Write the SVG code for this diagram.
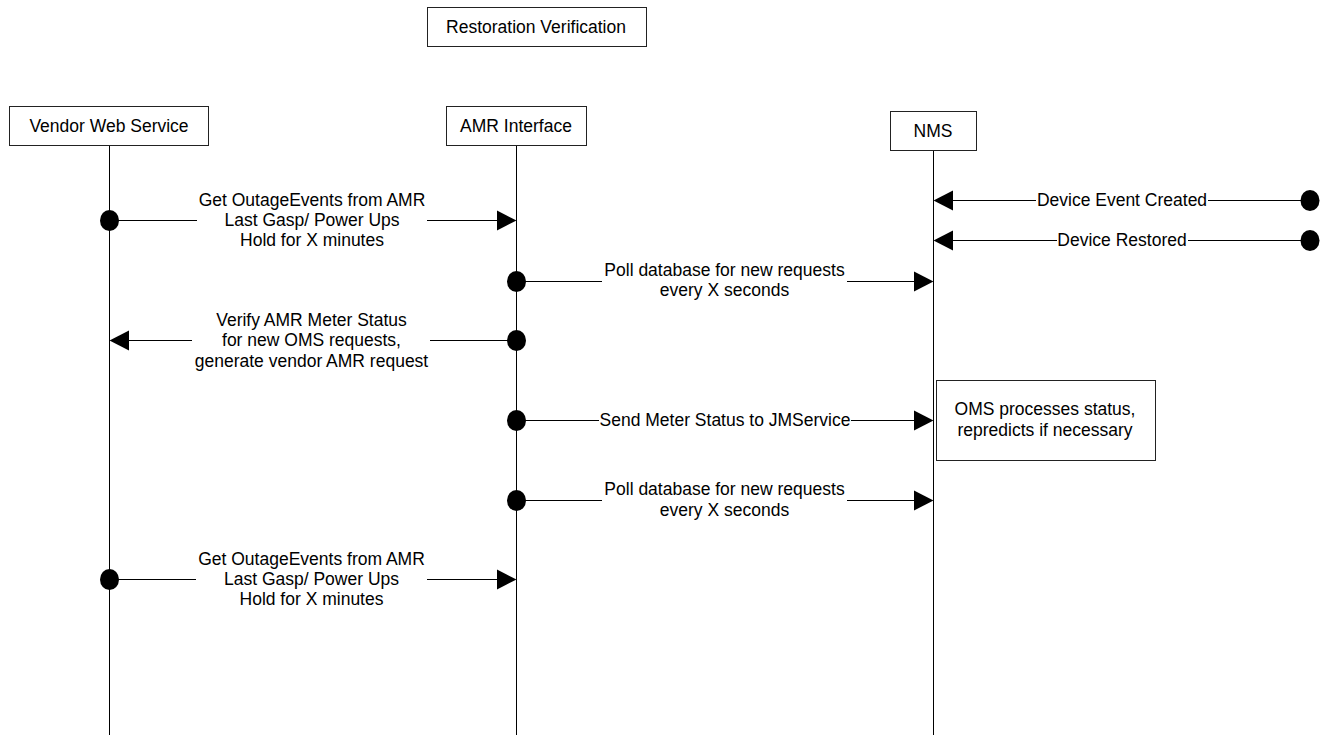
<svg xmlns="http://www.w3.org/2000/svg" width="1330" height="735" viewBox="0 0 1330 735">
<style>
text{font-family:"Liberation Sans",Arial,sans-serif;font-size:17.5px;fill:#000;text-anchor:middle}
.box{fill:#fff;stroke:#222;stroke-width:1;shape-rendering:crispEdges}
.ll{stroke:#000;stroke-width:1;fill:none;shape-rendering:crispEdges}
.ln{stroke:#000;stroke-width:1;fill:none;shape-rendering:crispEdges}
.dot{fill:#000}
.ah{fill:#000}
</style>
<rect width="1330" height="735" fill="#fff"/>
<g id="title">
<rect class="box" x="427.5" y="7.5" width="219" height="39"/>
<text x="536" y="33">Restoration Verification</text>
</g>
<g id="connectors">
<line class="ll" x1="109.5" y1="146" x2="109.5" y2="735"/>
<line class="ll" x1="516.5" y1="146" x2="516.5" y2="735"/>
<line class="ll" x1="933.5" y1="151" x2="933.5" y2="735"/>
<!-- msg1 -->
<line class="ln" x1="109" y1="220.5" x2="197" y2="220.5"/>
<line class="ln" x1="427" y1="220.5" x2="500" y2="220.5"/>
<ellipse class="dot" cx="109.5" cy="220.5" rx="9.5" ry="10.5"/>
<polygon class="ah" points="497,210.5 516.5,220.5 497,230.5"/>
<text x="312" y="206">Get OutageEvents from AMR</text>
<text x="312" y="226">Last Gasp/ Power Ups</text>
<text x="312" y="246">Hold for X minutes</text>
<!-- device event created -->
<line class="ln" x1="950" y1="200.5" x2="1036" y2="200.5"/>
<line class="ln" x1="1208" y1="200.5" x2="1310" y2="200.5"/>
<polygon class="ah" points="933.5,200.5 953,190.5 953,210.5"/>
<ellipse class="dot" cx="1310" cy="200.5" rx="9.5" ry="10.5"/>
<text x="1122" y="206">Device Event Created</text>
<!-- device restored -->
<line class="ln" x1="950" y1="240.5" x2="1057" y2="240.5"/>
<line class="ln" x1="1188" y1="240.5" x2="1310" y2="240.5"/>
<polygon class="ah" points="933.5,240.5 953,230.5 953,250.5"/>
<ellipse class="dot" cx="1310" cy="240.5" rx="9.5" ry="10.5"/>
<text x="1122" y="246">Device Restored</text>
<!-- poll 1 -->
<line class="ln" x1="516" y1="281.5" x2="602" y2="281.5"/>
<line class="ln" x1="847" y1="281.5" x2="916" y2="281.5"/>
<ellipse class="dot" cx="516.5" cy="281.5" rx="9.5" ry="10.5"/>
<polygon class="ah" points="914,271.5 933.5,281.5 914,291.5"/>
<text x="724.5" y="276">Poll database for new requests</text>
<text x="724.5" y="296">every X seconds</text>
<!-- verify -->
<line class="ln" x1="126" y1="340.5" x2="192" y2="340.5"/>
<line class="ln" x1="430" y1="340.5" x2="516" y2="340.5"/>
<polygon class="ah" points="109.5,340.5 129,330.5 129,350.5"/>
<ellipse class="dot" cx="516.5" cy="340.5" rx="9.5" ry="10.5"/>
<text x="311.5" y="326">Verify AMR Meter Status</text>
<text x="311.5" y="346">for new OMS requests,</text>
<text x="311.5" y="367">generate vendor AMR request</text>
<!-- send meter status -->
<line class="ln" x1="516" y1="420.5" x2="599" y2="420.5"/>
<line class="ln" x1="851" y1="420.5" x2="916" y2="420.5"/>
<ellipse class="dot" cx="516.5" cy="420.5" rx="9.5" ry="10.5"/>
<polygon class="ah" points="914,410.5 933.5,420.5 914,430.5"/>
<text x="725" y="426">Send Meter Status to JMService</text>
<!-- poll 2 -->
<line class="ln" x1="516" y1="500.5" x2="602" y2="500.5"/>
<line class="ln" x1="847" y1="500.5" x2="916" y2="500.5"/>
<ellipse class="dot" cx="516.5" cy="500.5" rx="9.5" ry="10.5"/>
<polygon class="ah" points="914,490.5 933.5,500.5 914,510.5"/>
<text x="724.5" y="495">Poll database for new requests</text>
<text x="724.5" y="516">every X seconds</text>
<!-- msg last -->
<line class="ln" x1="109" y1="579.5" x2="196" y2="579.5"/>
<line class="ln" x1="427" y1="579.5" x2="500" y2="579.5"/>
<ellipse class="dot" cx="109.5" cy="579.5" rx="9.5" ry="10.5"/>
<polygon class="ah" points="497,569.5 516.5,579.5 497,589.5"/>
<text x="311.5" y="565">Get OutageEvents from AMR</text>
<text x="311.5" y="585">Last Gasp/ Power Ups</text>
<text x="311.5" y="605">Hold for X minutes</text>
</g>
<g id="vendor">
<rect class="box" x="9.5" y="106.5" width="199" height="39"/>
<text x="109" y="132">Vendor Web Service</text>
</g>
<g id="amr">
<rect class="box" x="446.5" y="106.5" width="140" height="39"/>
<text x="516" y="132">AMR Interface</text>
</g>
<g id="nms">
<rect class="box" x="890.5" y="111.5" width="86" height="39"/>
<text x="933" y="137">NMS</text>
</g>
<g id="oms-note">
<rect class="box" x="936.5" y="380.5" width="219" height="80"/>
<text x="1045" y="415">OMS processes status,</text>
<text x="1045" y="436">repredicts if necessary</text>
</g>
</svg>
